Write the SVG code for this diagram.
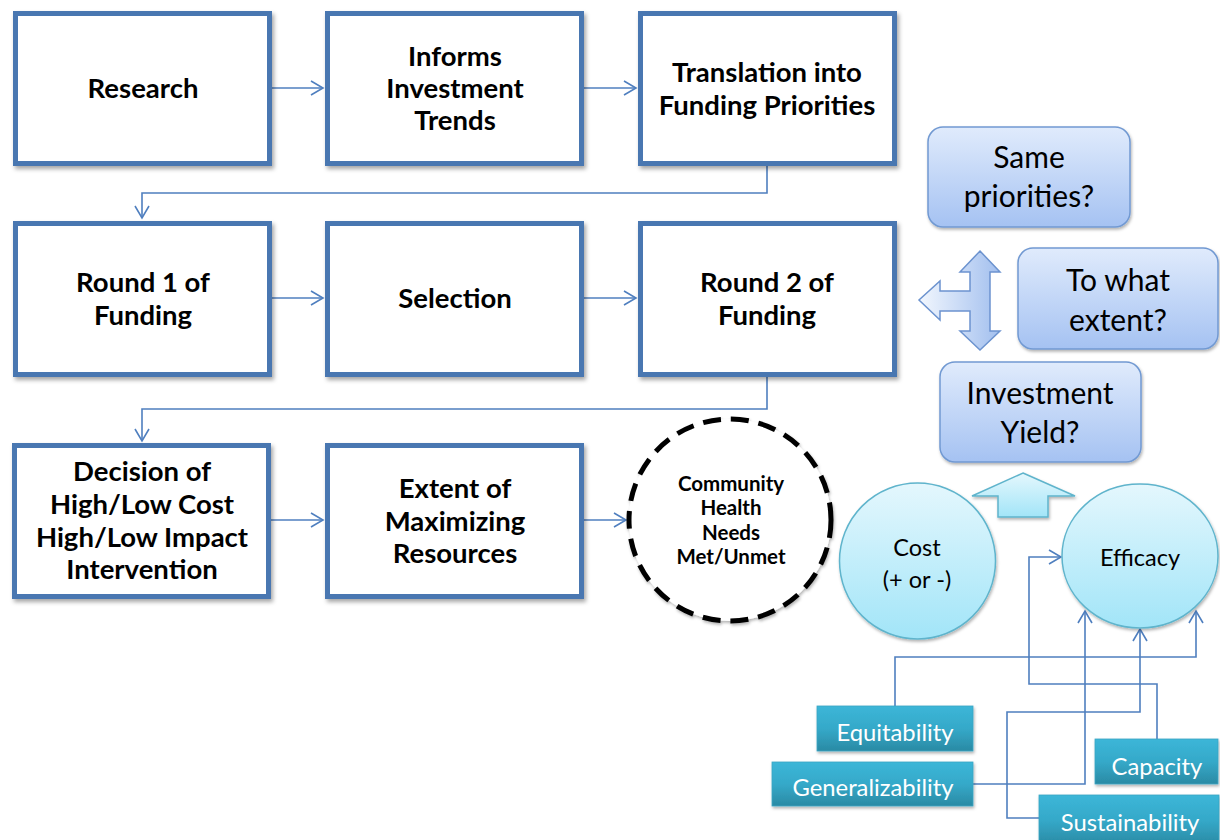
<svg xmlns="http://www.w3.org/2000/svg" width="1220" height="840" viewBox="0 0 1220 840">
<defs>
<style>
.box{fill:#fff;stroke:#4a77b1;stroke-width:5;filter:url(#sh)}
.bt{font-family:Lato,"Liberation Sans",sans-serif;font-weight:bold;font-size:27.5px;fill:#000;text-anchor:middle}
.ct{font-family:Lato,"Liberation Sans",sans-serif;font-weight:bold;font-size:20.5px;fill:#000;text-anchor:middle}
.rt{font-family:Lato,"Liberation Sans",sans-serif;font-size:30px;fill:#000;text-anchor:middle}
.st{font-family:Lato,"Liberation Sans",sans-serif;font-size:23.5px;fill:#000;text-anchor:middle}
.tt{font-family:Lato,"Liberation Sans",sans-serif;font-size:23.8px;fill:#fff;text-anchor:middle}
.rb{fill:url(#gBlue);stroke:#7199d2;stroke-width:1.5;filter:url(#sh2)}
.cy{fill:url(#gCyan);stroke:#5fb4cc;stroke-width:1.5;filter:url(#sh2)}
.teal{fill:url(#gTeal);stroke:#3aa6c4;stroke-width:0.8;filter:url(#sh2)}
.cn{fill:none;stroke:#4f7fbf;stroke-width:1.6}
</style>
<filter id="sh" x="-10%" y="-10%" width="125%" height="125%">
<feDropShadow dx="2" dy="3" stdDeviation="2" flood-color="#000" flood-opacity="0.35"/>
</filter>
<filter id="sh2" x="-10%" y="-10%" width="125%" height="125%">
<feDropShadow dx="1" dy="2" stdDeviation="1.5" flood-color="#000" flood-opacity="0.3"/>
</filter>
<linearGradient id="gBlue" x1="0" y1="0" x2="0" y2="1">
<stop offset="0" stop-color="#e0ebfc"/><stop offset="1" stop-color="#a5c2f2"/>
</linearGradient>
<linearGradient id="gBlueH" x1="0" y1="0" x2="1" y2="0">
<stop offset="0" stop-color="#f2f7fe"/><stop offset="1" stop-color="#a2bfee"/>
</linearGradient>
<linearGradient id="gCyan" x1="0" y1="0" x2="0" y2="1">
<stop offset="0" stop-color="#e4f7fd"/><stop offset="1" stop-color="#a2e5f8"/>
</linearGradient>
<linearGradient id="gTeal" x1="0" y1="0" x2="0" y2="1">
<stop offset="0" stop-color="#3cb6d8"/><stop offset="0.5" stop-color="#35a9c9"/><stop offset="1" stop-color="#2a8aa4"/>
</linearGradient>
<marker id="ah" markerUnits="userSpaceOnUse" viewBox="-14 -9 16 18" markerWidth="16" markerHeight="18" refX="0" refY="0" orient="auto">
<path d="M-12,-7 L0,0 L-12,7" fill="none" stroke="#4f7fbf" stroke-width="1.6"/>
</marker>
</defs>
<rect width="1220" height="840" fill="#fff"/>

<g id="connectors">
<path class="cn" d="M272,88 H323" marker-end="url(#ah)"/>
<path class="cn" d="M584,88 H636" marker-end="url(#ah)"/>
<path class="cn" d="M767,166 V193 H142 V218" marker-end="url(#ah)"/>
<path class="cn" d="M272,298 H323" marker-end="url(#ah)"/>
<path class="cn" d="M584,298 H636" marker-end="url(#ah)"/>
<path class="cn" d="M767,377 V409 H142 V441" marker-end="url(#ah)"/>
<path class="cn" d="M271,520 H323" marker-end="url(#ah)"/>
<path class="cn" d="M584,520 H626" marker-end="url(#ah)"/>
<path class="cn" d="M895,706 V657 H1196 V611" marker-end="url(#ah)"/>
<path class="cn" d="M1157,739 V684 H1029 V557 H1061" marker-end="url(#ah)"/>
<path class="cn" d="M973,784 H1085 V611" marker-end="url(#ah)"/>
<path class="cn" d="M1040,818 H1007 V712 H1140 V629" marker-end="url(#ah)"/>
</g>

<g id="research"><rect class="box" x="15.5" y="13.5" width="254" height="150"/>
<text class="bt" x="143" y="98">Research</text></g>
<g id="informs"><rect class="box" x="327.5" y="13.5" width="254" height="150"/>
<text class="bt" x="455" y="66">Informs</text><text class="bt" x="455" y="98">Investment</text><text class="bt" x="455" y="130">Trends</text></g>
<g id="translation"><rect class="box" x="640.5" y="13.5" width="254" height="150"/>
<text class="bt" x="767" y="82">Translation into</text><text class="bt" x="767" y="115">Funding Priorities</text></g>

<g id="round1"><rect class="box" x="15.5" y="223.5" width="254" height="151"/>
<text class="bt" x="143" y="292">Round 1 of</text><text class="bt" x="143" y="325">Funding</text></g>
<g id="selection"><rect class="box" x="327.5" y="223.5" width="254" height="151"/>
<text class="bt" x="455" y="308">Selection</text></g>
<g id="round2"><rect class="box" x="640.5" y="223.5" width="254" height="151"/>
<text class="bt" x="767" y="292">Round 2 of</text><text class="bt" x="767" y="325">Funding</text></g>

<g id="decision"><rect class="box" x="14.5" y="445.5" width="254" height="151"/>
<text class="bt" x="142" y="481">Decision of</text><text class="bt" x="142" y="514">High/Low Cost</text><text class="bt" x="142" y="547">High/Low Impact</text><text class="bt" x="142" y="579">Intervention</text></g>
<g id="extent"><rect class="box" x="327.5" y="445.5" width="254" height="151"/>
<text class="bt" x="455" y="498">Extent of</text><text class="bt" x="455" y="531">Maximizing</text><text class="bt" x="455" y="563">Resources</text></g>

<g id="community">
<circle cx="730" cy="520" r="101" fill="#fff" stroke="#000" stroke-width="5" stroke-dasharray="18 10" filter="url(#sh2)"/>
<text class="ct" x="731" y="491">Community</text><text class="ct" x="731" y="515">Health</text><text class="ct" x="731" y="540">Needs</text><text class="ct" x="731" y="564">Met/Unmet</text>
</g>

<g id="same"><rect class="rb" x="928" y="127" width="202" height="100" rx="15"/>
<text class="rt" x="1029" y="168">Same</text><text class="rt" x="1029" y="207">priorities?</text></g>
<g id="towhat"><rect class="rb" x="1018" y="248" width="200" height="101" rx="15"/>
<text class="rt" x="1118" y="291">To what</text><text class="rt" x="1118" y="331">extent?</text></g>
<g id="yield"><rect class="rb" x="940" y="362" width="201" height="100" rx="15"/>
<text class="rt" x="1040" y="404">Investment</text><text class="rt" x="1040" y="443">Yield?</text></g>

<g id="threeway">
<path d="M980,251 L1000,272 L990,272 L990,331 L1000,331 L980,350 L960,331 L970,331 L970,311 L940,311 L940,320 L919,300 L940,281 L940,291 L970,291 L970,272 L960,272 Z" fill="url(#gBlueH)" stroke="#6c93cf" stroke-width="1.5" stroke-linejoin="miter"/>
</g>

<g id="uparrow">
<path d="M1023,473 L1075,496 L1048,496 L1048,517 L998,517 L998,496 L972,496 Z" class="cy"/>
</g>

<g id="cost"><circle class="cy" cx="917.5" cy="561" r="78"/>
<text class="st" x="917" y="556">Cost</text><text class="st" x="917" y="588">(+ or -)</text></g>
<g id="efficacy"><ellipse class="cy" cx="1140" cy="556" rx="78" ry="72"/>
<text class="st" x="1140" y="566">Efficacy</text></g>

<g id="equitability"><rect class="teal" x="817" y="706" width="156" height="45"/>
<text class="tt" x="895" y="741">Equitability</text></g>
<g id="generalizability"><rect class="teal" x="772" y="762" width="201" height="44"/>
<text class="tt" x="873" y="796">Generalizability</text></g>
<g id="capacity"><rect class="teal" x="1095" y="739" width="123" height="45"/>
<text class="tt" x="1157" y="775">Capacity</text></g>
<g id="sustainability"><rect class="teal" x="1039" y="795" width="180" height="50"/>
<text class="tt" x="1130" y="831">Sustainability</text></g>
</svg>
